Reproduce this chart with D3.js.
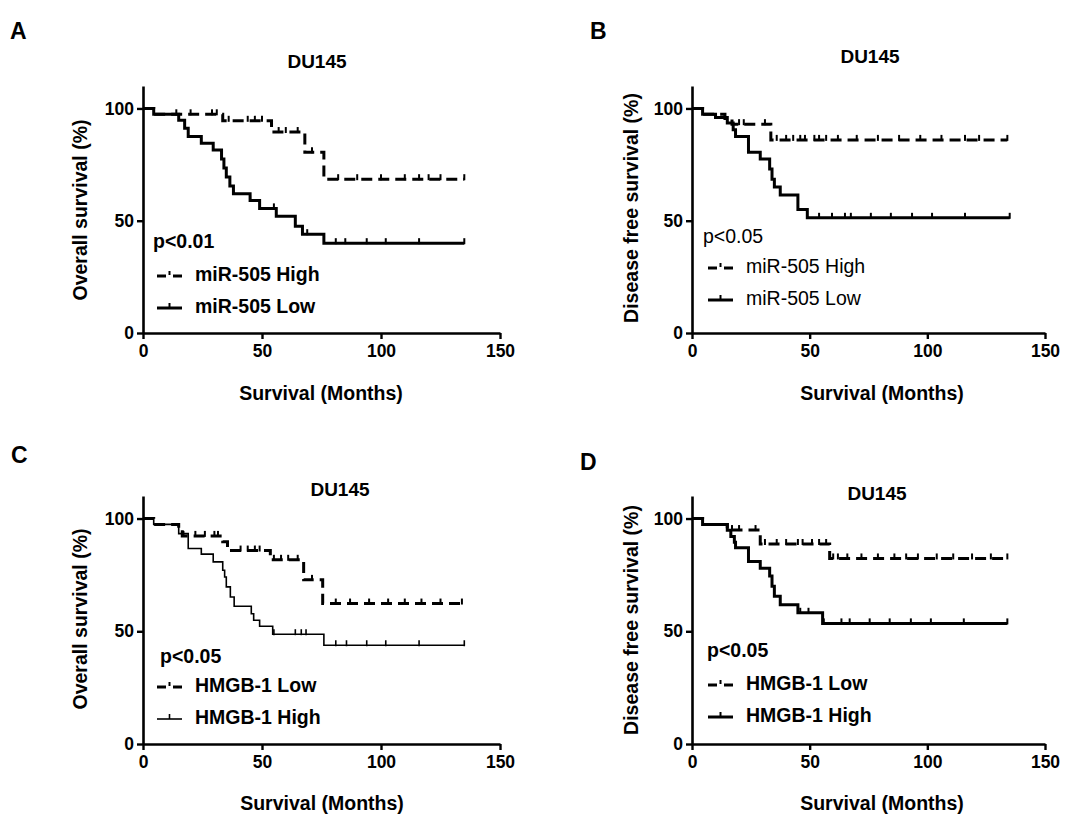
<!DOCTYPE html>
<html>
<head>
<meta charset="utf-8">
<script src="https://cdn.jsdelivr.net/npm/d3@7"></script>
<style>
body { margin: 0; background: #fff; }
text { font-family: "Liberation Sans", Arial, sans-serif; font-weight: bold; fill: #000; }
</style>
</head>
<body>
<svg id="fig" width="1089" height="815"></svg>
<script>
try {

/* =======================================
   Data
   steps = [month, survival %], cens = censor months
 =======================================*/
var xTicks = [0, 50, 100, 150];
var yTicks = [0, 50, 100];

// A - overall survival, miR-505
var aHigh = [[0,100],[4.5,97.4],[33.5,94.5],[54,89.5],[68,80.5],[76,68.5]];
var aHighCens = [14,20,29,31,36,44,47,50,57,60,65,71,82,90,100,110,116,120,125,135];
var aLow = [[0,100],[4.5,97.4],[15,94.7],[17.5,91.2],[19,87.5],[24.5,84.5],[29.5,81.5],[33,77.5],[34,73.5],[35,69.5],[36.5,65.5],[38,62],[45,59],[49,55.5],[56,52],[64,47.5],[67,44],[76,40]];
var aLowCens = [45,55,69,81,85,94,102,116,135];

// B - disease free survival, miR-505
var bHigh = [[0,100],[4.5,97.4],[14,95.5],[17,93],[33.5,86]];
var bHighCens = [20,22,31,36,40,43,46,48,52,54,57,62,70,79,88,97,106,116,122,134];
var bLow = [[0,100],[4.5,97.4],[10,96],[15,93.5],[17.5,90.5],[18.5,87.5],[24,80.5],[29,77.5],[33,73],[34,68.5],[35,65],[37.5,61.5],[45,55],[49,51.3]];
var bLowCens = [54,59.5,65,67.5,76,84.5,93.5,102,116,135];

// C - overall survival, HMGB-1
var cLow = [[0,100],[4.5,97.4],[15,94.8],[16.5,92.3],[33.5,89.7],[35.5,85.8],[53.5,81.7],[67.5,72.8],[75.5,62.3]];
var cLowCens = [17,22,26,30,31.5,41,44,47,49,55,58,61,65,71,81,87,95,103,110,117,125,134];
var cHigh = [[0,100],[4.5,97.4],[15,93.3],[19,86.7],[24.5,84.2],[29.5,80.8],[33.5,77.1],[34.3,74.1],[35,69.7],[36.7,65.2],[38.3,61.1],[45.5,57.8],[46.5,54.9],[49,52.2],[54.5,48.7],[76,43.8]];
var cHighCens = [55,64,66.5,68.5,81,85.5,94,102,116,135];

// D - disease free survival, HMGB-1
var dLow = [[0,100],[4.5,97.4],[15,94.9],[29,88.7],[58.5,82.3]];
var dLowCens = [17,20,27,31,36,40,45,47,51,54,57,60,62,66,72,79,86,91,96,104,111,119,127,134];
var dHigh = [[0,100],[4.5,97.4],[15,94.8],[16.5,92],[18,89.5],[18.5,87],[24,81],[29,78],[33,74.5],[34,70],[35,65.5],[37.5,61.8],[45,58.2],[55.5,53.5]];
var dHighCens = [46,49.5,56,63.5,67,75.5,84,93,101.5,115.5,134];

/* =======================================
   Panel layout
 =======================================*/
var panels = [
  { letter:"A", lx:10, ly:39, title:"DU145", tx:317, ty:63,
    x0:143, x1:500, y0:333, yTop:86, ylab:"Overall survival (%)", ylx:82, yly:210,
    xlx:321, xly:395, pTxt:"p<0.01", px:153, py:243, legX:157, legY:276,
    legWeight:"bold",
    series:[
      { name:"miR-505 High", steps:aHigh, cens:aHighCens, end:135, dashed:true, w:3 },
      { name:"miR-505 Low", steps:aLow, cens:aLowCens, end:135, dashed:false, w:3 } ] },
  { letter:"B", lx:590, ly:39, title:"DU145", tx:870, ty:58,
    x0:692, x1:1045, y0:333, yTop:86, ylab:"Disease free survival (%)", ylx:633, yly:208,
    xlx:882, xly:395, pTxt:"p<0.05", px:703, py:238, legX:708, legY:268,
    legWeight:"normal",
    series:[
      { name:"miR-505 High", steps:bHigh, cens:bHighCens, end:134, dashed:true, w:3 },
      { name:"miR-505 Low", steps:bLow, cens:bLowCens, end:135, dashed:false, w:3 } ] },
  { letter:"C", lx:11, ly:463, title:"DU145", tx:340, ty:491,
    x0:143, x1:500, y0:744, yTop:496, ylab:"Overall survival (%)", ylx:82, yly:619,
    xlx:322, xly:805, pTxt:"p<0.05", px:160, py:658, legX:157, legY:687,
    legWeight:"bold",
    series:[
      { name:"HMGB-1 Low", steps:cLow, cens:cLowCens, end:134, dashed:true, w:3 },
      { name:"HMGB-1 High", steps:cHigh, cens:cHighCens, end:135, dashed:false, w:1.6 } ] },
  { letter:"D", lx:580, ly:470, title:"DU145", tx:877, ty:495,
    x0:692, x1:1045, y0:744, yTop:496, ylab:"Disease free survival (%)", ylx:633, yly:620,
    xlx:882, xly:805, pTxt:"p<0.05", px:707, py:652, legX:708, legY:685,
    legWeight:"bold",
    series:[
      { name:"HMGB-1 Low", steps:dLow, cens:dLowCens, end:134, dashed:true, w:3 },
      { name:"HMGB-1 High", steps:dHigh, cens:dHighCens, end:134, dashed:false, w:3 } ] }
];

var svg = d3.select("#fig");

// survival value at time t for a step curve
var survAt = function(steps, t){
  var s = steps[0][1];
  steps.forEach(function(d){ if (d[0] <= t) s = d[1]; });
  return s;
};

var drawPanel = function(p){
  var g = svg.append("g");
  var x = d3.scaleLinear().domain([0,150]).range([p.x0, p.x1]);
  var y = d3.scaleLinear().domain([0,110]).range([p.y0, p.yTop]);

  // axes
  var xAxis = g.append("g").attr("transform","translate(0,"+p.y0+")")
    .call(d3.axisBottom(x).tickValues(xTicks).tickSize(6).tickSizeOuter(0).tickPadding(6));
  var yAxis = g.append("g").attr("transform","translate("+p.x0+",0)")
    .call(d3.axisLeft(y).tickValues(yTicks).tickSize(6).tickSizeOuter(0).tickPadding(3));
  [xAxis, yAxis].forEach(function(a){
    a.select(".domain").attr("stroke","#000").attr("stroke-width",2.6);
    a.selectAll(".tick line").attr("stroke","#000").attr("stroke-width",2.4);
    a.selectAll(".tick text").style("font-size","17.5px").style("font-weight","bold")
      .style("font-family","'Liberation Sans', Arial, sans-serif").attr("fill","#000");
  });

  // curves
  var line = d3.line().x(function(d){ return x(d[0]); }).y(function(d){ return y(d[1]); })
    .curve(d3.curveStepAfter);
  p.series.forEach(function(s){
    var pts = s.steps.concat([[s.end, s.steps[s.steps.length-1][1]]]);
    g.append("path").datum(pts).attr("d", line)
      .attr("fill","none").attr("stroke","#000").attr("stroke-width", s.w)
      .attr("stroke-dasharray", s.dashed ? "11,6" : null);
    g.selectAll(null).data(s.cens).enter().append("line")
      .attr("x1", function(t){ return x(t); }).attr("x2", function(t){ return x(t); })
      .attr("y1", function(t){ return y(survAt(s.steps,t)) + 1; })
      .attr("y2", function(t){ return y(survAt(s.steps,t)) - 5; })
      .attr("stroke","#000").attr("stroke-width", Math.min(s.w, 2));
  });

  // texts
  g.append("text").attr("x",p.lx).attr("y",p.ly).style("font-size","23px").text(p.letter);
  g.append("text").attr("x",p.tx).attr("y",p.ty).attr("text-anchor","middle")
    .attr("dominant-baseline","middle").style("font-size","19px").text(p.title);
  g.append("text").attr("transform","translate("+p.ylx+","+p.yly+") rotate(-90)")
    .attr("text-anchor","middle").attr("dominant-baseline","middle")
    .style("font-size","19.5px").text(p.ylab);
  g.append("text").attr("x",p.xlx).attr("y",p.xly).attr("text-anchor","middle")
    .attr("dominant-baseline","middle").style("font-size","19.5px").text("Survival (Months)");
  g.append("text").attr("x",p.px).attr("y",p.py).attr("dominant-baseline","middle")
    .style("font-size","19.5px").style("font-weight",p.legWeight).text(p.pTxt);

  // legend
  p.series.forEach(function(s, i){
    var ly = p.legY + i*32, lx = p.legX;
    if (s.dashed) {
      g.append("line").attr("x1",lx).attr("x2",lx+9).attr("y1",ly).attr("y2",ly)
        .attr("stroke","#000").attr("stroke-width",3);
      g.append("line").attr("x1",lx+16).attr("x2",lx+25).attr("y1",ly).attr("y2",ly)
        .attr("stroke","#000").attr("stroke-width",3);
      g.append("line").attr("x1",lx+12.5).attr("x2",lx+12.5).attr("y1",ly-1).attr("y2",ly-5)
        .attr("stroke","#000").attr("stroke-width",2);
    } else {
      g.append("line").attr("x1",lx).attr("x2",lx+25).attr("y1",ly).attr("y2",ly)
        .attr("stroke","#000").attr("stroke-width",s.w);
      g.append("line").attr("x1",lx+12.5).attr("x2",lx+12.5).attr("y1",ly).attr("y2",ly-5)
        .attr("stroke","#000").attr("stroke-width",Math.min(s.w,2));
    }
    g.append("text").attr("x",lx+38).attr("y",ly).attr("dominant-baseline","middle")
      .style("font-size","19.5px").style("font-weight",p.legWeight).text(s.name);
  });
};

panels.forEach(drawPanel);

} catch (e) {
  console.log(e);
}
</script>
</body>
</html>
